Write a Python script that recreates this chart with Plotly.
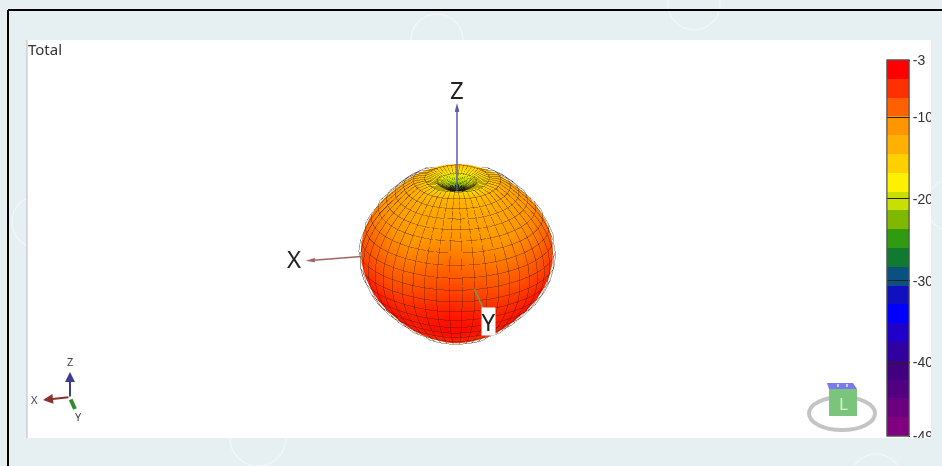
import numpy as np
import plotly.graph_objects as go

W, H = 942, 466

# gain (dB) along theta, pole to pole, one value every 7.5 deg
gain_theta = [-27.0, -23.0, -18.5, -15.2, -13.2, -12.3, -11.6, -11.0, -10.4, -9.6, -8.8, -7.9,
              -7.0, -6.0, -5.0, -4.4, -4.0, -3.8, -4.0, -4.6, -5.2, -5.6, -5.4, -4.8, -4.2]
# plotted radius along the same theta steps
radius_theta = [60, 65, 74, 81, 84, 84, 84, 85, 87, 89, 91, 93, 94,
                94.5, 94, 93, 92, 91, 90.5, 91, 92, 93, 93.5, 94, 94.5]
# small change around phi, one value every 7.5 deg over half a turn
phi_ripple = [0.5, 0.6, 0.4, 0.1, -0.2, -0.4, -0.5, -0.3, 0.0, 0.2, 0.4, 0.2,
              0.0, -0.2, -0.4, -0.5, -0.4, -0.2, 0.0, 0.2, 0.5, 0.7, 0.6, 0.5]

# colour bar
band_colors = ["#ff0000", "#ff3000", "#ff6000", "#ff9500", "#ffb000", "#ffd000", "#fff000", "#c8e000",
               "#80b800", "#309a10", "#107a30", "#0a5080", "#1010c0", "#0000ff", "#2000c8", "#3000a0",
               "#400080", "#500080", "#6a0080", "#800080"]
tick_vals = [-3, -10, -20, -30, -40, -49]
tick_text = ["-3", "-10", "-20", "-30", "-40", "-49"]
gain_max, gain_min = -3, -49

# pixel position helpers for the page furniture
def px(x):
    return x / W

def py(y):
    return 1 - y / H

n = len(band_colors)
stepped = []
for i, c in enumerate(band_colors[::-1]):
    stepped += [[i / n, c], [(i + 1) / n, c]]
smooth = [[i / (n - 1), c] for i, c in enumerate(band_colors[::-1])]

theta = np.radians(np.arange(len(gain_theta)) * 7.5)
phi = np.radians(np.arange(len(phi_ripple) * 2 + 1) * 7.5)
ripple = np.array(phi_ripple * 2 + phi_ripple[:1])
gain = np.outer(np.array(gain_theta), np.ones(len(phi))) + np.outer(np.sin(theta), ripple)
r = np.outer(np.array(radius_theta), np.ones(len(phi))) + 1.5 * np.outer(np.sin(theta), ripple)
X = r * np.sin(theta)[:, None] * np.cos(phi)
Y = r * np.sin(theta)[:, None] * np.sin(phi)
Z = r * np.cos(theta)[:, None]

el, az = np.radians(25), np.radians(10.5)
eye_d = 1.6
ex, ey, ez = np.sin(az) * np.cos(el), np.cos(az) * np.cos(el), np.sin(el)

flat = dict(ambient=1, diffuse=0, specular=0, roughness=1, fresnel=0)

fig = go.Figure()
fig.add_trace(go.Surface(x=X, y=Y, z=Z, surfacecolor=gain, colorscale=smooth, cmin=gain_min, cmax=gain_max,
                         showscale=False, lighting=flat, hoverinfo="skip"))

# wire grid on the surface, lifted a little and only on the side facing the camera
lift = 1.025
back = (X * ex + Y * ey + Z * ez) / r < 0.0
WX, WY, WZ = [np.where(back, np.nan, A * lift) for A in (X, Y, Z)]
lx, ly, lz = [], [], []
for i in range(len(theta)):
    lx += list(WX[i]) + [None]
    ly += list(WY[i]) + [None]
    lz += list(WZ[i]) + [None]
for j in range(len(phi)):
    lx += list(WX[:, j]) + [None]
    ly += list(WY[:, j]) + [None]
    lz += list(WZ[:, j]) + [None]
lx, ly, lz = [[None if v is None or np.isnan(v) else float(v) for v in a] for a in (lx, ly, lz)]
fig.add_trace(go.Scatter3d(x=lx, y=ly, z=lz, mode="lines", line=dict(color="rgba(40,20,0,0.7)", width=1), hoverinfo="skip"))

# the grid closes up to a black knot at the pole
kx, ky, kz = [], [], []
for j in range(0, len(phi), 3):
    kx += list(X[:2, j] * lift) + [None]
    ky += list(Y[:2, j] * lift) + [None]
    kz += list(Z[:2, j] * lift) + [None]
fig.add_trace(go.Scatter3d(x=kx, y=ky, z=kz, mode="lines", line=dict(color="#111111", width=2), hoverinfo="skip"))

# axes
axes = [((1, 0, 0), 143, "#a06464"), ((0, 1, 0), 150, "#76985a"), ((0, 0, 1), 150, "#5c5ca8")]
for u, axis_len, col in axes:
    fig.add_trace(go.Scatter3d(x=[0, u[0] * axis_len], y=[0, u[1] * axis_len], z=[0, u[2] * axis_len], mode="lines",
                               line=dict(color=col, width=3), hoverinfo="skip"))
    fig.add_trace(go.Cone(x=[u[0] * axis_len], y=[u[1] * axis_len], z=[u[2] * axis_len], u=[u[0]], v=[u[1]], w=[u[2]],
                          sizemode="raw", sizeref=9, anchor="tail", showscale=False, lighting=flat,
                          colorscale=[[0, col], [1, col]], hoverinfo="skip"))

# colour bars: the first carries the labels, the second the tick lines across the bar
bar = dict(thicknessmode="pixels", thickness=22, lenmode="pixels", len=376, x=px(887), xanchor="left", xpad=0,
           y=py(60), yanchor="top", ypad=0, outlinecolor="#555555", outlinewidth=1, tickvals=tick_vals, ticktext=tick_text,
           tickcolor="#222222", tickwidth=1)
fig.add_trace(go.Scatter3d(x=[0], y=[0], z=[0], mode="markers", hoverinfo="skip",
                           marker=dict(size=1, color=[-20], colorscale=stepped, cmin=gain_min, cmax=gain_max, showscale=True,
                                       colorbar=dict(bar, ticks="outside", ticklen=1,
                                                     tickfont=dict(family="Liberation Sans", size=14, color="#333333")))))
fig.add_trace(go.Scatter3d(x=[0], y=[0], z=[0], mode="markers", hoverinfo="skip",
                           marker=dict(size=1, color=[-20], colorscale=stepped, cmin=gain_min, cmax=gain_max, showscale=True,
                                       colorbar=dict(bar, ticks="inside", ticklen=22, showticklabels=False))))

zoom = 1.96
hidden = dict(visible=False, range=[-180, 180])
big = dict(family="Noto Sans", size=24, color="#222222")
small = dict(family="Noto Sans", size=11, color="#444444")

# faint watermark rings on the page background
marks = [(437, 40, 26), (694, 4, 26), (258, 438, 28), (38, 222, 26), (876, 480, 26), (952, 205, 26)]
mark_shapes = [dict(type="circle", xref="paper", yref="paper", x0=px(x - s), x1=px(x + s), y0=py(y + s), y1=py(y - s),
                    line=dict(color="#f1f7f8", width=1.5), layer="below") for x, y, s in marks]

fig.update_layout(
    width=W, height=H, margin=dict(l=0, r=0, t=0, b=0, autoexpand=False), showlegend=False,
    paper_bgcolor="#e6eff2",
    scene=dict(
        domain=dict(x=[px(27), px(887)], y=[py(435), py(63)]),
        xaxis=hidden, yaxis=hidden, zaxis=hidden, bgcolor="rgba(0,0,0,0)",
        aspectmode="manual", aspectratio=dict(x=zoom, y=zoom, z=zoom),
        camera=dict(projection=dict(type="orthographic"), up=dict(x=0, y=0, z=1), center=dict(x=0, y=0, z=0),
                    eye=dict(x=eye_d * ex, y=eye_d * ey, z=eye_d * ez)),
        annotations=[
            dict(x=0, y=0, z=174, text="Z", showarrow=False, font=big),
            dict(x=167, y=20, z=13, text="X", showarrow=False, font=big),
            dict(x=0, y=173, z=0, text="Y", showarrow=False, font=big, bgcolor="#ffffff", width=13, height=27, borderpad=0),
        ],
    ),
    shapes=mark_shapes + [
        dict(type="rect", xref="paper", yref="paper", x0=px(27), x1=px(931), y0=py(438), y1=py(40), fillcolor="white", line_width=0, layer="below"),
        dict(type="line", xref="paper", yref="paper", x0=px(27), x1=px(27), y0=py(438), y1=py(40), line=dict(color="#bbbbbb", width=1), layer="below"),
        dict(type="line", xref="paper", yref="paper", x0=px(8), x1=px(8), y0=0, y1=py(10), line=dict(color="black", width=2), layer="below"),
        dict(type="line", xref="paper", yref="paper", x0=px(8), x1=1, y0=py(10), y1=py(10), line=dict(color="black", width=2), layer="below"),
        dict(type="circle", xref="paper", yref="paper", x0=px(809), x1=px(875), y0=py(430), y1=py(397), line=dict(color="#c4c4c4", width=4), layer="below"),
        dict(type="path", xref="paper", yref="paper", layer="below", fillcolor="#7a7aee", line_width=0,
             path=f"M{px(827)},{py(383)} L{px(853)},{py(383)} L{px(857)},{py(389)} L{px(829)},{py(389)} Z"),
        dict(type="rect", xref="paper", yref="paper", x0=px(829), x1=px(857), y0=py(416), y1=py(389), fillcolor="#7bc47b", line_width=0, layer="below"),
        dict(type="line", xref="paper", yref="paper", x0=px(838), x1=px(838), y0=py(387), y1=py(384), line=dict(color="#e8e8ff", width=1.5), layer="below"),
        dict(type="line", xref="paper", yref="paper", x0=px(847), x1=px(847), y0=py(387), y1=py(384), line=dict(color="#e8e8ff", width=1.5), layer="below"),
    ],
    annotations=[
        dict(x=px(26), y=py(49), xref="paper", yref="paper", text="Total", showarrow=False, xanchor="left", yanchor="middle", font=dict(family="Noto Sans", size=15, color="#333333")),
        dict(x=px(843), y=py(403), xref="paper", yref="paper", text="L", showarrow=False, xanchor="center", yanchor="middle", font=dict(family="Noto Sans", size=17, color="#d8f0d8")),
        dict(x=px(70), y=py(361), xref="paper", yref="paper", text="Z", showarrow=False, xanchor="center", yanchor="middle", font=small),
        dict(x=px(34), y=py(399), xref="paper", yref="paper", text="X", showarrow=False, xanchor="center", yanchor="middle", font=small),
        dict(x=px(78), y=py(416), xref="paper", yref="paper", text="Y", showarrow=False, xanchor="center", yanchor="middle", font=small),
        dict(x=px(70), y=py(372), ax=0, ay=26, xref="paper", yref="paper", text="", arrowhead=2, arrowwidth=2, arrowcolor="#3d3d8f"),
        dict(x=px(43), y=py(400), ax=27, ay=-3, xref="paper", yref="paper", text="", arrowhead=2, arrowwidth=2, arrowcolor="#8b3030"),
        dict(x=px(75), y=py(409), ax=-5, ay=-11, xref="paper", yref="paper", text="", arrowhead=0, arrowwidth=4, arrowcolor="#2e8b2e"),
    ],
)

post = """
document.body.style.margin = '0';
document.body.style.overflow = 'hidden';
document.body.style.background = '#e6eff2';
document.querySelectorAll('.main-svg')[1].style.clipPath = 'inset(0 11px 28px 0)';
"""
fig.write_html("out.html", config={"displayModeBar": False}, post_script=post)
